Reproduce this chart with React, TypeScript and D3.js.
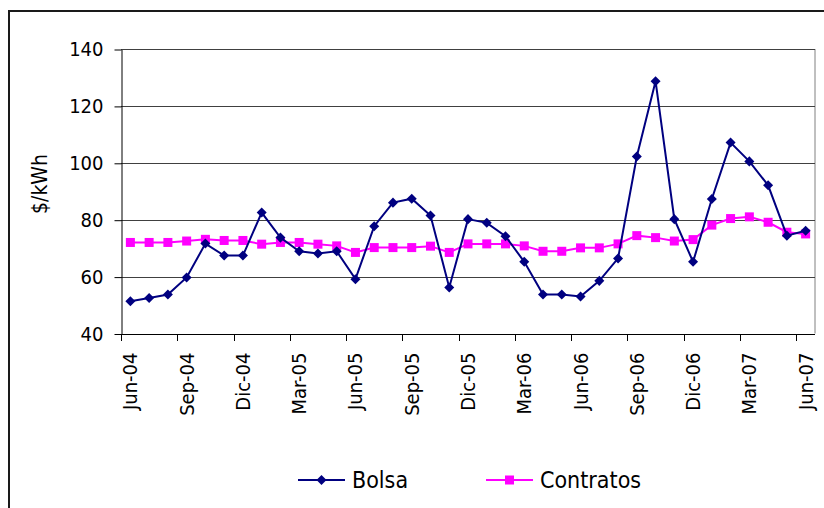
import React, { useEffect, useRef } from "react";
import * as d3 from "d3";

// monthly categories, Jun-04 .. Jun-07
const months = [
  "Jun-04", "Jul-04", "Ago-04", "Sep-04", "Oct-04", "Nov-04", "Dic-04",
  "Ene-05", "Feb-05", "Mar-05", "Abr-05", "May-05", "Jun-05", "Jul-05",
  "Ago-05", "Sep-05", "Oct-05", "Nov-05", "Dic-05", "Ene-06", "Feb-06",
  "Mar-06", "Abr-06", "May-06", "Jun-06", "Jul-06", "Ago-06", "Sep-06",
  "Oct-06", "Nov-06", "Dic-06", "Ene-07", "Feb-07", "Mar-07", "Abr-07",
  "May-07", "Jun-07"
];

const tickLabels = [
  "Jun-04", "Sep-04", "Dic-04", "Mar-05", "Jun-05", "Sep-05", "Dic-05",
  "Mar-06", "Jun-06", "Sep-06", "Dic-06", "Mar-07", "Jun-07"
];

const bolsa = [
  51.3, 52.5, 53.7, 59.7, 71.6, 67.4, 67.4, 82.5, 73.7, 68.9, 68.1, 68.9,
  59.1, 77.7, 86.0, 87.4, 81.5, 56.2, 80.2, 78.9, 74.2, 65.2, 53.7, 53.7,
  53.0, 58.5, 66.4, 102.2, 128.7, 80.2, 65.2, 87.3, 107.1, 100.5, 92.1,
  74.4, 76.1
];

const contratos = [
  72.0, 72.0, 72.0, 72.5, 73.1, 72.7, 72.7, 71.4, 72.0, 72.0, 71.4, 70.8,
  68.5, 70.2, 70.2, 70.2, 70.7, 68.5, 71.5, 71.5, 71.5, 70.8, 68.9, 68.9,
  70.1, 70.1, 71.5, 74.4, 73.7, 72.5, 73.0, 78.1, 80.4, 81.0, 79.1, 75.6,
  75.0
];

const yTicks = [40, 60, 80, 100, 120, 140];

const FONT = "'DejaVu Sans Condensed', 'DejaVu Sans', sans-serif";
const BOLSA_COLOR = "#000080";
const CONTRATOS_COLOR = "#FF00FF";

function drawChart(el: SVGSVGElement) {
  const svg = d3.select(el);
  svg.selectAll("*").remove();

  const left = 121, right = 815, top = 49, bottom = 333.5;

  const x = d3.scaleBand<string>().domain(months).range([left, right]);
  const y = d3.scaleLinear().domain([40, 140]).range([bottom, top]);
  const cx = (i: number) => (x(months[i]) as number) + x.bandwidth() / 2;

  // outer chart frame (runs off the right and bottom edge)
  svg.append("rect")
    .attr("x", 9).attr("y", 11)
    .attr("width", 840).attr("height", 520)
    .style("fill", "#fff")
    .style("stroke", "#1a1a1a")
    .style("stroke-width", "2px");

  // plot area right border
  svg.append("line")
    .attr("x1", right).attr("x2", right)
    .attr("y1", top).attr("y2", bottom)
    .style("stroke", "#808080")
    .style("stroke-width", "1px");

  // gridlines
  svg.append("g")
    .selectAll("line")
    .data(yTicks.slice(1))
    .join("line")
    .attr("x1", left).attr("x2", right)
    .attr("y1", (d) => Math.round(y(d)) + 0.5)
    .attr("y2", (d) => Math.round(y(d)) + 0.5)
    .style("stroke", "#404040")
    .style("stroke-width", "1px");

  // y axis
  const yAxis = d3.axisLeft(y).tickValues(yTicks).tickSizeInner(7).tickSizeOuter(0).tickPadding(11);
  const gy = svg.append("g").attr("transform", `translate(${left + 0.5},0.5)`).call(yAxis);
  gy.select("path").style("stroke", "#000");
  gy.selectAll(".tick line").style("stroke", "#000");
  gy.selectAll(".tick text")
    .style("font-family", FONT)
    .style("font-size", "20px")
    .style("fill", "#000");

  // x axis line + ticks every 3 months at category boundaries
  svg.append("line")
    .attr("x1", left).attr("x2", right)
    .attr("y1", Math.round(bottom) + 0.5).attr("y2", Math.round(bottom) + 0.5)
    .style("stroke", "#000");

  const tickIdx = d3.range(0, months.length, 3);
  svg.append("g")
    .selectAll("line")
    .data(tickIdx)
    .join("line")
    .attr("x1", (i) => Math.round(x(months[i]) as number) + 0.5)
    .attr("x2", (i) => Math.round(x(months[i]) as number) + 0.5)
    .attr("y1", Math.round(bottom))
    .attr("y2", Math.round(bottom) + 7)
    .style("stroke", "#000");

  svg.append("g")
    .selectAll("text")
    .data(tickLabels)
    .join("text")
    .attr("transform", (d) => `translate(${cx(months.indexOf(d))},${bottom + 19}) rotate(-90)`)
    .attr("dy", "0.35em")
    .attr("text-anchor", "end")
    .style("font-family", FONT)
    .style("font-size", "20px")
    .style("fill", "#000")
    .text((d) => d);

  // y axis title
  svg.append("text")
    .attr("transform", `translate(40,184) rotate(-90)`)
    .attr("dy", "0.35em")
    .attr("text-anchor", "middle")
    .style("font-family", FONT)
    .style("font-size", "21px")
    .text("$/kWh");

  const line = d3.line<number>().x((_, i) => cx(i)).y((d) => y(d));

  // Contratos series
  svg.append("path")
    .datum(contratos)
    .attr("d", line)
    .style("fill", "none")
    .style("stroke", CONTRATOS_COLOR)
    .style("stroke-width", "2px");
  svg.append("g")
    .selectAll("rect")
    .data(contratos)
    .join("rect")
    .attr("x", (_, i) => cx(i) - 4.5)
    .attr("y", (d) => y(d) - 4.5)
    .attr("width", 9).attr("height", 9)
    .style("fill", CONTRATOS_COLOR);

  // Bolsa series
  svg.append("path")
    .datum(bolsa)
    .attr("d", line)
    .style("fill", "none")
    .style("stroke", BOLSA_COLOR)
    .style("stroke-width", "2px");
  const diamond = d3.symbol().type(d3.symbolDiamond2).size(64);
  svg.append("g")
    .selectAll("path")
    .data(bolsa)
    .join("path")
    .attr("transform", (d, i) => `translate(${cx(i)},${y(d)})`)
    .attr("d", diamond)
    .style("fill", BOLSA_COLOR);

  // legend
  const legend = [
    { name: "Bolsa", color: BOLSA_COLOR, x0: 298, kind: "diamond" },
    { name: "Contratos", color: CONTRATOS_COLOR, x0: 486, kind: "square" }
  ];
  const lg = svg.append("g").attr("transform", "translate(0,480)");
  legend.forEach((l) => {
    lg.append("line")
      .attr("x1", l.x0).attr("x2", l.x0 + 47)
      .attr("y1", 0).attr("y2", 0)
      .style("stroke", l.color)
      .style("stroke-width", "2px");
    if (l.kind === "diamond") {
      lg.append("path")
        .attr("transform", `translate(${l.x0 + 23.5},0)`)
        .attr("d", diamond)
        .style("fill", l.color);
    } else {
      lg.append("rect")
        .attr("x", l.x0 + 23.5 - 4.5).attr("y", -4.5)
        .attr("width", 9).attr("height", 9)
        .style("fill", l.color);
    }
    lg.append("text")
      .attr("x", l.x0 + 54)
      .attr("dy", "0.35em")
      .style("font-family", FONT)
      .style("font-size", "23px")
      .text(l.name);
  });
}

export default function App() {
  const ref = useRef<SVGSVGElement>(null);
  useEffect(() => {
    if (ref.current) drawChart(ref.current);
  }, []);
  return (
    <svg
      ref={ref}
      width={824}
      height={508}
      style={{ position: "absolute", left: 0, top: 0, background: "#fff" }}
    />
  );
}
